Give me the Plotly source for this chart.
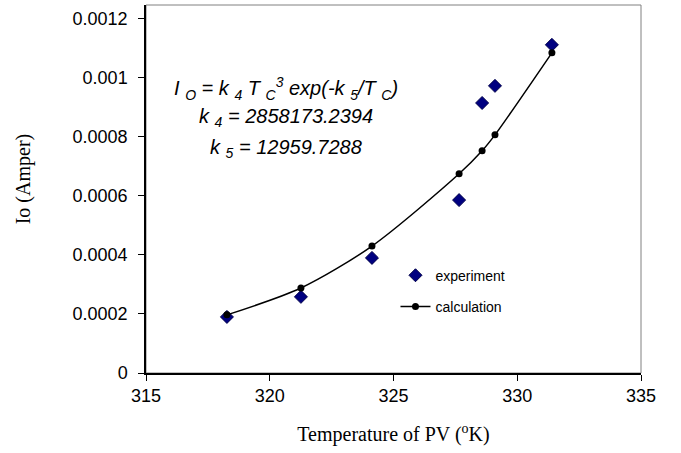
import plotly.graph_objects as go

temp_exp = [318.27, 321.26, 324.13, 327.65, 328.58, 329.10, 331.40]
io_exp = [0.00019, 0.000258, 0.00039, 0.000586, 0.000915, 0.000973, 0.001112]
temp_calc = [318.27, 321.26, 324.13, 327.65, 328.58, 329.10, 331.40]
io_calc = [0.000197, 0.000288, 0.00043, 0.000675, 0.000753, 0.000807, 0.001085]
y_ticks = [0, 0.0002, 0.0004, 0.0006, 0.0008, 0.001, 0.0012]
y_tick_labels = ["0", "0.0002", "0.0004", "0.0006", "0.0008", "0.001", "0.0012"]
x_ticks = [315, 320, 325, 330, 335]

fig = go.Figure()
fig.add_trace(go.Scatter(
    x=temp_exp, y=io_exp, mode="markers", name="experiment", legendgroup="a",
    marker=dict(symbol="diamond", size=10, color="#000080", line=dict(color="#00004a", width=1)),
))
fig.add_trace(go.Scatter(
    x=temp_calc, y=io_calc, mode="lines+markers", name="calculation", legendgroup="b",
    line=dict(color="black", width=1.5, shape="spline", smoothing=0.8),
    marker=dict(symbol="circle", size=7, color="black"),
))

fig.add_shape(type="rect", xref="paper", yref="paper", x0=0, y0=0, x1=1, y1=1,
              line=dict(color="#808080", width=1), layer="below")

eq_font = dict(family="Liberation Sans, Arial", size=20, color="black")
fig.add_annotation(x=0.282, y=0.774, xref="paper", yref="paper", xanchor="center", yanchor="middle",
                   showarrow=False, font=eq_font,
                   text="<i>I <sub>O</sub> = k <sub>4</sub> T <sub>C</sub><sup>3</sup> exp(-k <sub>5</sub>/T <sub>C</sub>)</i>")
fig.add_annotation(x=0.282, y=0.693, xref="paper", yref="paper", xanchor="center", yanchor="middle",
                   showarrow=False, font=eq_font,
                   text="<i>k <sub>4</sub> = 2858173.2394</i>")
fig.add_annotation(x=0.282, y=0.611, xref="paper", yref="paper", xanchor="center", yanchor="middle",
                   showarrow=False, font=eq_font,
                   text="<i>k <sub>5</sub> = 12959.7288</i>")
fig.add_annotation(x=-0.248, y=0.527, xref="paper", yref="paper", xanchor="center", yanchor="middle",
                   showarrow=False, textangle=-90, text="Io (Amper)",
                   font=dict(family="Liberation Serif, Times New Roman", size=20, color="black"))

fig.update_layout(
    width=681, height=453,
    margin=dict(l=146, r=40, t=5, b=80),
    paper_bgcolor="white", plot_bgcolor="white",
    showlegend=True,
    legend=dict(x=0.504, y=0.308, xanchor="left", yanchor="top", bgcolor="rgba(0,0,0,0)",
                font=dict(family="Liberation Sans, Arial", size=14, color="black"),
                tracegroupgap=10, traceorder="grouped", itemwidth=30),
    font=dict(family="Liberation Sans, Arial", size=15, color="black"),
)
fig.update_xaxes(
    range=[315, 335], tickvals=x_ticks, ticks="outside", ticklen=6, tickcolor="black",
    showline=True, linecolor="black", linewidth=1.5, showgrid=False, zeroline=False,
    tickfont=dict(family="Liberation Sans, Arial", size=18, color="black"),
    title=dict(text="Temperature of PV (<sup>o</sup>K)", standoff=22,
               font=dict(family="Liberation Serif, Times New Roman", size=20, color="black")),
)
fig.update_yaxes(
    range=[0, 0.001247], tickvals=y_ticks, ticktext=y_tick_labels, ticks="outside", ticklen=6,
    tickcolor="black", showline=True, linecolor="black", linewidth=1.5, showgrid=False, zeroline=False,
    tickfont=dict(family="Liberation Sans, Arial", size=18, color="black"), ticklabelstandoff=7,
)

fig.write_html("out.html", post_script="document.body.style.margin='0';",
               config={"displayModeBar": False})
